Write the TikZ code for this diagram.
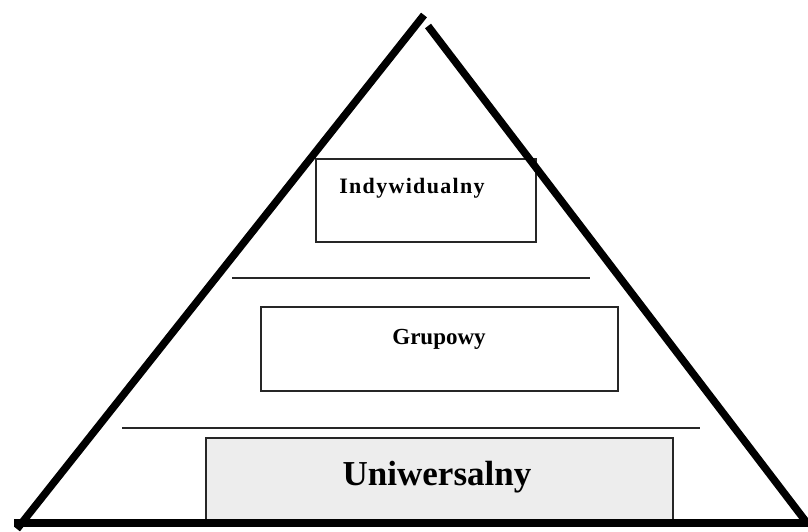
\documentclass[tikz,border=0pt]{standalone}
\usepackage{fontspec}
\setmainfont{Liberation Serif}
\begin{document}
\begin{tikzpicture}[x=1pt,y=-1pt,
  edge/.style={line width=7.5pt,black},
  sep/.style={line width=1.6pt,black!85},
  levelbox/.style={draw=black!85,line width=1.8pt,inner sep=0pt,anchor=north west},
  lbl/.style={font=\bfseries,inner sep=0pt}]
\useasboundingbox (0,0) rectangle (808,531);
\coordinate (aL) at (424,15);
\coordinate (aR) at (428,26);
\coordinate (bL) at (17,529);
\coordinate (bR) at (807,523);
\coordinate (b0) at (14,523);
\coordinate (b1) at (808,523);
% boxes
\node[levelbox,minimum width=220pt,minimum height=83pt] (ind) at (315,158) {};
\node[levelbox,minimum width=357pt,minimum height=84pt] (grp) at (260,306) {};
\node[levelbox,fill=black!7,minimum width=467pt,minimum height=86pt] (uni) at (205,437) {};
% separator lines
\coordinate (s1a) at (232,278); \coordinate (s1b) at (590,278);
\coordinate (s2a) at (122,428); \coordinate (s2b) at (700,428);
\draw[sep] (s1a) -- (s1b);
\draw[sep] (s2a) -- (s2b);
% labels
\node[lbl,font=\fontsize{22}{24}\selectfont\bfseries] (tind) at (412,188) {\addfontfeature{LetterSpace=6}Indywidualny};
\node[lbl,font=\fontsize{23}{25}\selectfont\bfseries] (tgrp) at (439,339) {Grupowy};
\node[lbl,font=\fontsize{35}{37}\selectfont\bfseries] (tuni) at (437,477) {Uniwersalny};
% triangle
\draw[edge] (bL) -- (aL);
\draw[edge] (aR) -- (bR);
\draw[edge] (b0) -- (b1);
\end{tikzpicture}
\end{document}
